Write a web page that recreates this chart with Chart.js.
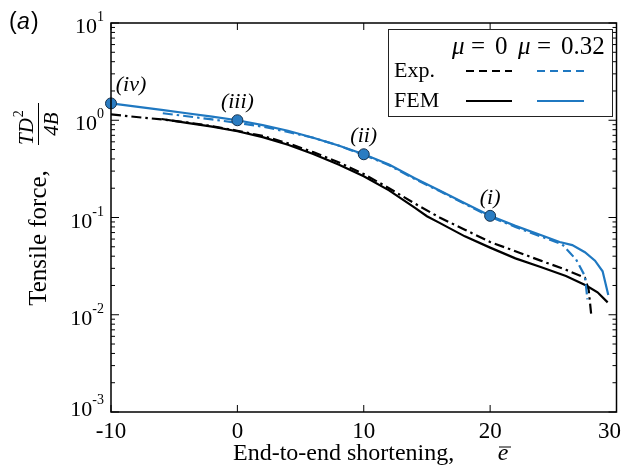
<!DOCTYPE html>
<html>
<head>
<meta charset="utf-8">
<script src="https://cdn.jsdelivr.net/npm/chart.js@4.4.1/dist/chart.umd.min.js"></script>
<style>
body { margin: 0; background: #fff; }
#c { display: block; }
</style>
</head>
<body>
<canvas id="c" width="623" height="470"></canvas>
<script>
// values (x = end-to-end shortening, y = TD^2/4B)
let femBlueX = [-10, -8, -6, -4, -2, 0, 2, 4, 6, 8, 10, 12, 14, 16, 18, 20, 22, 24, 25.5, 26.5, 27.5, 28.3, 28.9, 29.35];
let femBlueY = [1.49, 1.38, 1.28, 1.18, 1.09, 1.0, 0.89, 0.78, 0.66, 0.55, 0.447, 0.35, 0.255, 0.19, 0.14, 0.104, 0.082, 0.066, 0.056, 0.052, 0.044, 0.036, 0.028, 0.016];

let expBlueX = [-5.9, -4, -2, 0, 2, 4, 6, 8, 10, 12, 14, 16, 18, 20, 22, 24, 25.7, 26.8, 27.5, 27.7];
let expBlueY = [1.18, 1.1, 1.02, 0.94, 0.86, 0.76, 0.66, 0.55, 0.44, 0.345, 0.25, 0.187, 0.138, 0.102, 0.08, 0.064, 0.053, 0.037, 0.025, 0.0144];

let femBlackX = [-6, -4, -2, 0, 2, 4, 6, 8, 10, 12, 14, 15, 16, 18, 20, 22, 24, 26, 27.6, 28.5, 29.3];
let femBlackY = [1.03, 0.94, 0.86, 0.77, 0.67, 0.56, 0.45, 0.35, 0.265, 0.19, 0.127, 0.103, 0.088, 0.064, 0.049, 0.038, 0.031, 0.025, 0.02, 0.017, 0.0134];

let expBlackX = [-10, -8, -6, -4, -2, 0, 2, 4, 6, 8, 10, 12, 14, 16, 18, 20, 22, 24, 26, 27.5, 27.8, 28.0];
let expBlackY = [1.15, 1.08, 1.02, 0.95, 0.87, 0.78, 0.69, 0.58, 0.47, 0.37, 0.28, 0.2, 0.14, 0.1, 0.075, 0.056, 0.045, 0.036, 0.029, 0.024, 0.018, 0.01];

let markX = [20, 10, 0, -10];
let markY = [0.104, 0.447, 1.0, 1.49];
let markLabels = ['(i)', '(ii)', '(iii)', '(iv)'];

let xTicks = [-10, 0, 10, 20, 30];
let yExps = [-3, -2, -1, 0, 1];

const BLUE = '#1f78c1';
const SERIF = '"Liberation Serif", "Times New Roman", serif';

function pts(xs, ys) {
    let out = [];
    for (let i = 0; i < xs.length; i++) {
        out.push({x: xs[i], y: ys[i]});
    }
    return out;
}

function line(ctx, x1, y1, x2, y2) {
    ctx.beginPath();
    ctx.moveTo(x1, y1);
    ctx.lineTo(x2, y2);
    ctx.stroke();
}

// frame, inward ticks, labels, titles and the legend box
const decorations = {
    id: 'decorations',
    afterDraw(chart) {
        const ctx = chart.ctx, a = chart.chartArea;
        const xs = chart.scales.x, ys = chart.scales.y;
        ctx.save();
        ctx.strokeStyle = '#000';
        ctx.fillStyle = '#000';
        ctx.lineWidth = 1.5;
        ctx.strokeRect(a.left, a.top, a.right - a.left, a.bottom - a.top);

        ctx.lineWidth = 1;
        ctx.font = '23px ' + SERIF;
        ctx.textBaseline = 'alphabetic';
        xTicks.forEach(function (v) {
            let px = xs.getPixelForValue(v);
            line(ctx, px, a.bottom, px, a.bottom - 7);
            line(ctx, px, a.top, px, a.top + 7);
            // the last label is pushed left so it stays on the page
            if (v === 30) {
                ctx.textAlign = 'right';
                ctx.fillText(String(v), 621, a.bottom + 26);
            } else {
                ctx.textAlign = 'center';
                ctx.fillText(String(v), px, a.bottom + 26);
            }
        });

        yExps.forEach(function (e) {
            let py = ys.getPixelForValue(Math.pow(10, e));
            line(ctx, a.left, py, a.left + 8, py);
            line(ctx, a.right, py, a.right - 8, py);
            if (e < 1) {
                for (let m = 2; m <= 9; m++) {
                    let pm = ys.getPixelForValue(m * Math.pow(10, e));
                    line(ctx, a.left, pm, a.left + 4, pm);
                    line(ctx, a.right, pm, a.right - 4, pm);
                }
            }
            let base = e === -3 ? py + 4 : py + 10;
            ctx.font = '14px ' + SERIF;
            let ew = ctx.measureText(String(e)).width;
            ctx.textAlign = 'left';
            ctx.fillText(String(e), 104 - ew, base - 12);
            ctx.font = '22px ' + SERIF;
            ctx.textAlign = 'right';
            ctx.fillText('10', 104 - ew, base);
        });

        // marker labels
        ctx.font = 'italic 22px ' + SERIF;
        ctx.textAlign = 'center';
        let meta = chart.getDatasetMeta(0);
        meta.data.forEach(function (el, i) {
            let dx = markLabels[i] === '(iv)' ? 20 : 0;
            ctx.fillText(markLabels[i], el.x + dx, el.y - 12);
        });

        // x title
        ctx.font = '24px ' + SERIF;
        ctx.textAlign = 'left';
        ctx.fillText('End-to-end shortening,', 233, 460);
        ctx.font = 'italic 24px ' + SERIF;
        ctx.textAlign = 'center';
        ctx.fillText('e', 503, 460);
        line(ctx, 499, 447, 511, 447);

        // y title
        ctx.save();
        ctx.translate(46, 238);
        ctx.rotate(-Math.PI / 2);
        ctx.font = '25px ' + SERIF;
        ctx.textAlign = 'center';
        ctx.fillText('Tensile force,', 0, 0);
        ctx.restore();

        ctx.save();
        ctx.translate(0, 124);
        ctx.rotate(-Math.PI / 2);
        ctx.font = 'italic 21px ' + SERIF;
        ctx.textAlign = 'left';
        ctx.fillText('TD', -21, 33);
        let tdw = ctx.measureText('TD').width;
        ctx.font = '14px ' + SERIF;
        ctx.fillText('2', -21 + tdw + 1, 23);
        ctx.font = 'italic 21px ' + SERIF;
        ctx.textAlign = 'center';
        ctx.fillText('4B', 0, 58);
        ctx.lineWidth = 1;
        line(ctx, -21, 38.5, 21, 38.5);
        ctx.restore();

        // panel letter
        ctx.font = '23px "Liberation Sans", Arial, sans-serif';
        ctx.textAlign = 'left';
        ctx.fillText('(', 9, 29);
        ctx.font = 'italic 23px "Liberation Sans", Arial, sans-serif';
        ctx.fillText('a', 17, 29);
        ctx.font = '23px "Liberation Sans", Arial, sans-serif';
        ctx.fillText(')', 31, 29);

        // legend
        ctx.fillStyle = '#fff';
        ctx.fillRect(388, 29, 225, 88);
        ctx.lineWidth = 1;
        ctx.strokeStyle = '#222';
        ctx.strokeRect(388.5, 29.5, 224, 87);
        ctx.fillStyle = '#000';
        ctx.textAlign = 'left';
        function muText(x, val) {
            ctx.font = 'italic 25px ' + SERIF;
            ctx.fillText('\u03bc', x, 54);
            ctx.font = '25px ' + SERIF;
            ctx.fillText('=', x + 19, 54);
            ctx.fillText(val, x + 43, 54);
        }
        muText(452, '0');
        muText(518, '0.32');
        ctx.font = '22px ' + SERIF;
        ctx.fillText('Exp.', 394, 77);
        ctx.fillText('FEM', 394, 107);
        ctx.lineWidth = 2.2;
        ctx.strokeStyle = '#000';
        ctx.setLineDash([8, 5]);
        line(ctx, 466, 71, 512, 71);
        ctx.strokeStyle = BLUE;
        ctx.lineWidth = 2;
        line(ctx, 537, 71, 584, 71);
        ctx.setLineDash([]);
        ctx.lineWidth = 2.2;
        ctx.strokeStyle = '#000';
        line(ctx, 466, 101, 512, 101);
        ctx.strokeStyle = BLUE;
        line(ctx, 537, 101, 584, 101);
        ctx.restore();
    }
};

let ctx = document.getElementById('c').getContext('2d');
let myChart = new Chart(ctx, {
    type: 'line',
    data: {
        datasets: [{
            label: 'points',
            data: pts(markX, markY),
            showLine: false,
            pointRadius: 5.5,
            pointBackgroundColor: '#2a7cc2',
            pointBorderColor: '#17324d',
            pointBorderWidth: 1,
            clip: false,
            order: 0
        }, {
            label: 'FEM mu=0.32',
            data: pts(femBlueX, femBlueY),
            borderColor: BLUE,
            borderWidth: 2.2,
            pointRadius: 0,
            order: 1
        }, {
            label: 'Exp mu=0.32',
            data: pts(expBlueX, expBlueY),
            borderColor: BLUE,
            borderWidth: 2.2,
            borderDash: [10, 4, 2.5, 4],
            pointRadius: 0,
            order: 2
        }, {
            label: 'FEM mu=0',
            data: pts(femBlackX, femBlackY),
            borderColor: '#000',
            borderWidth: 2.2,
            pointRadius: 0,
            order: 3
        }, {
            label: 'Exp mu=0',
            data: pts(expBlackX, expBlackY),
            borderColor: '#000',
            borderWidth: 2.2,
            borderDash: [10, 4, 2.5, 4],
            pointRadius: 0,
            order: 4
        }]
    },
    options: {
        responsive: false,
        animation: false,
        layout: { padding: { top: 23, right: 6, left: 0, bottom: 0 } },
        plugins: { legend: { display: false }, tooltip: { enabled: false } },
        scales: {
            x: {
                type: 'linear', min: -10, max: 30,
                ticks: { display: false },
                grid: { display: false },
                border: { display: false },
                afterFit: function (s) { s.height = 58; }
            },
            y: {
                type: 'logarithmic', min: 0.001, max: 10,
                ticks: { display: false },
                grid: { display: false },
                border: { display: false },
                afterFit: function (s) { s.width = 111; }
            }
        }
    },
    plugins: [decorations]
});
</script>
</body>
</html>
